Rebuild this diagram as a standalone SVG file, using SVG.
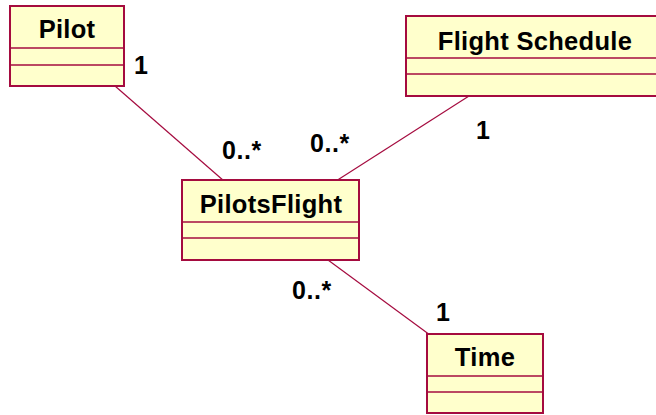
<svg xmlns="http://www.w3.org/2000/svg" width="656" height="415" viewBox="0 0 656 415">
<style>
.box{fill:#ffffcc;stroke:#a50b3f;stroke-width:2}
.div{stroke:#a50b3f;stroke-width:1.3}
.t{font-family:"Liberation Sans",Arial,sans-serif;font-weight:bold;font-size:25.5px;letter-spacing:0.3px;fill:#000;text-anchor:middle}
.m{font-family:"Liberation Sans",Arial,sans-serif;font-weight:bold;font-size:25px;letter-spacing:0.6px;fill:#000}
.c{stroke:#a50b3f;stroke-width:1.2;fill:none}
</style>
<rect width="656" height="415" fill="#fff"/>
<g id="connectors">
<line class="c" x1="115" y1="86" x2="224" y2="181"/>
<line class="c" x1="469" y1="96" x2="336" y2="181"/>
<line class="c" x1="328" y1="260" x2="430" y2="335"/>
</g>
<g id="Pilot">
<rect class="box" x="10" y="6" width="114" height="80"/>
<line class="div" x1="10" y1="48" x2="124" y2="48"/>
<line class="div" x1="10" y1="65" x2="124" y2="65"/>
<text class="t" x="67" y="37.5">Pilot</text>
</g>
<g id="FlightSchedule">
<rect class="box" x="406" y="16" width="258" height="80"/>
<line class="div" x1="406" y1="58" x2="664" y2="58"/>
<line class="div" x1="406" y1="74" x2="664" y2="74"/>
<text class="t" x="535" y="49.5">Flight Schedule</text>
</g>
<g id="PilotsFlight">
<rect class="box" x="182" y="180" width="177" height="80"/>
<line class="div" x1="182" y1="222" x2="359" y2="222"/>
<line class="div" x1="182" y1="238" x2="359" y2="238"/>
<text class="t" x="271" y="213">PilotsFlight</text>
</g>
<g id="Time">
<rect class="box" x="427" y="334" width="116" height="79"/>
<line class="div" x1="427" y1="376" x2="543" y2="376"/>
<line class="div" x1="427" y1="392" x2="543" y2="392"/>
<text class="t" x="485" y="365.5">Time</text>
</g>
<g id="labels">
<text class="m" x="134" y="73.5">1</text>
<text class="m" x="222" y="158.5">0..*</text>
<text class="m" x="310" y="152">0..*</text>
<text class="m" x="476" y="138.5">1</text>
<text class="m" x="292" y="298.5">0..*</text>
<text class="m" x="436" y="321">1</text>
</g>
</svg>
